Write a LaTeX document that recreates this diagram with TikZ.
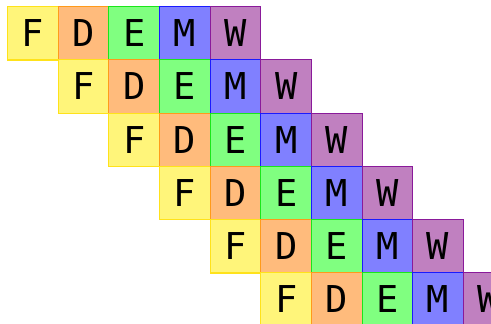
\documentclass[tikz,border=0pt]{standalone}
\usepackage{fontspec}
\newfontfamily\cellfont{DejaVu Sans Mono}
\usetikzlibrary{positioning}

% fill and border colours of the five stages
\definecolor{fyellow}{HTML}{FFF57A}
\definecolor{byellow}{HTML}{FFE21A}
\definecolor{forange}{HTML}{FFBB7C}
\definecolor{borange}{HTML}{FF9A1A}
\definecolor{fgreen}{HTML}{80FF80}
\definecolor{bgreen}{HTML}{1AE61A}
\definecolor{fblue}{HTML}{8080FF}
\definecolor{bblue}{HTML}{1A1AFF}
\definecolor{fpurple}{HTML}{C080C0}
\definecolor{bpurple}{HTML}{8A1A9A}

\tikzset{
  cell/.style={draw=b#1,fill=f#1,line width=1.1pt,anchor=north west,
    minimum width=50.7pt,minimum height=53.4pt,inner sep=0pt,
    font=\cellfont\fontsize{37}{40}\selectfont}
}

\begin{document}
\begin{tikzpicture}[x=1pt,y=-1pt]
  \useasboundingbox (0,0) rectangle (491,324);
  % cell size and offset of the first row
  \def\dx{50.65}
  \def\dy{53.25}
  \def\ox{7}
  \def\oy{6}

  % one row per instruction, each shifted by one stage
  \foreach \r in {0,...,5} {
    \foreach \l/\c [count=\k from 0] in {F/yellow,D/orange,E/green,M/blue,W/purple} {
      \node[cell=\c] (\l\r) at ({\ox+\dx*(\r+\k)},{\oy+\dy*\r}) {\l};
    }
  }
\end{tikzpicture}
\end{document}
